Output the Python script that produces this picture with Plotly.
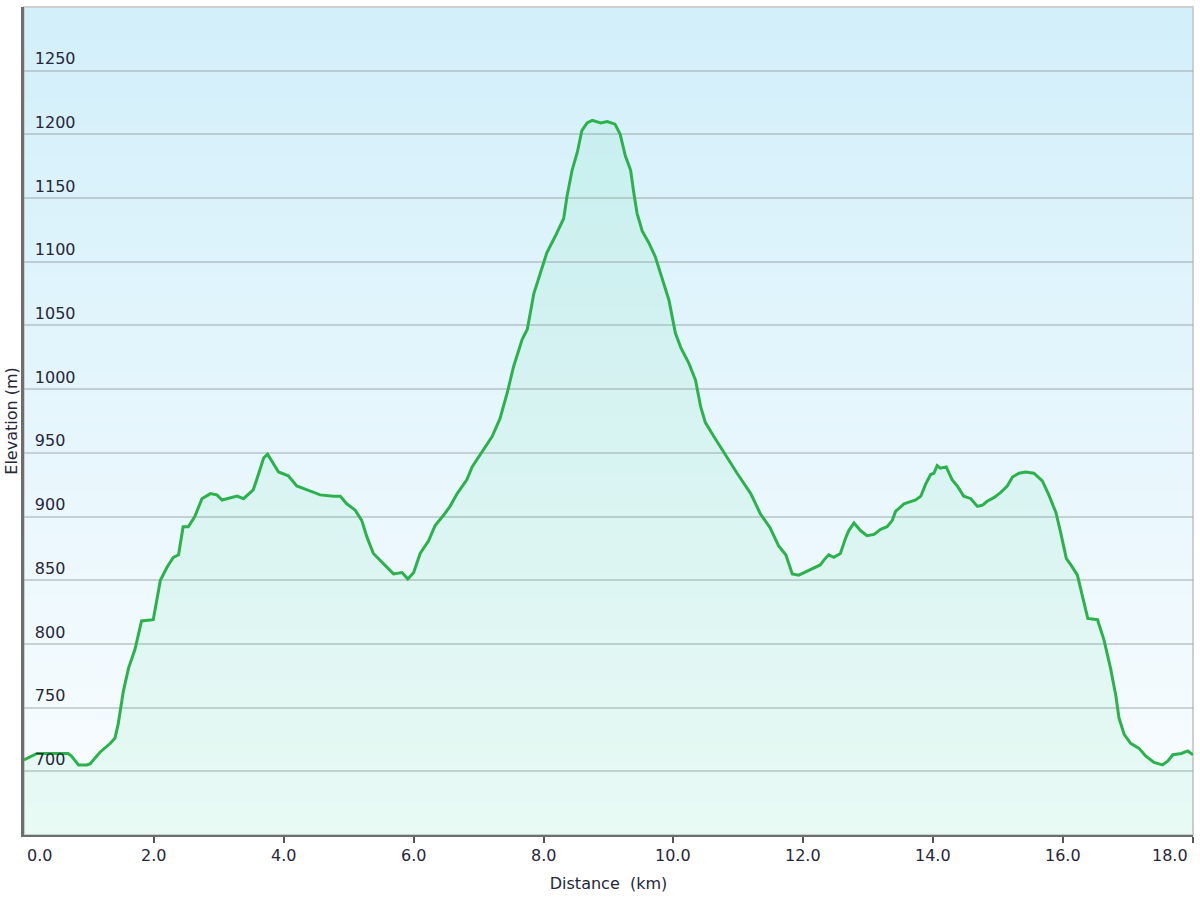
import zlib, struct, base64
import plotly.graph_objects as go

# ---- data ----
dist_km = [0.00, 0.20, 0.68, 0.73, 0.84, 0.97, 1.02, 1.17, 1.33, 1.40, 1.45, 1.53, 1.61, 1.71, 1.81, 1.99,
           2.10, 2.20, 2.30, 2.38, 2.45, 2.53, 2.63, 2.74, 2.87, 2.97, 3.05, 3.12, 3.28, 3.38, 3.53, 3.59,
           3.69, 3.75, 3.92, 4.07, 4.20, 4.36, 4.56, 4.77, 4.87, 4.97, 5.10, 5.20, 5.28, 5.38, 5.54, 5.69,
           5.82, 5.91, 6.00, 6.10, 6.23, 6.33, 6.46, 6.56, 6.67, 6.82, 6.90, 7.05, 7.21, 7.33, 7.44, 7.54,
           7.67, 7.75, 7.85, 7.95, 8.05, 8.18, 8.31, 8.36, 8.44, 8.52, 8.59, 8.67, 8.75, 8.88, 8.98, 9.10,
           9.18, 9.26, 9.34, 9.39, 9.44, 9.52, 9.62, 9.72, 9.83, 9.93, 10.03, 10.11, 10.24, 10.34, 10.42,
           10.49, 10.62, 10.78, 10.98, 11.19, 11.34, 11.49, 11.62, 11.73, 11.83, 11.93, 12.06, 12.19, 12.26,
           12.32, 12.39, 12.47, 12.57, 12.65, 12.70, 12.78, 12.88, 12.98, 13.09, 13.19, 13.29, 13.37, 13.42,
           13.55, 13.65, 13.73, 13.81, 13.88, 13.96, 14.01, 14.06, 14.11, 14.20, 14.29, 14.37, 14.47, 14.58,
           14.68, 14.76, 14.83, 14.94, 15.04, 15.14, 15.22, 15.32, 15.42, 15.55, 15.68, 15.78, 15.89, 15.96,
           16.05, 16.12, 16.22, 16.30, 16.38, 16.53, 16.63, 16.73, 16.81, 16.86, 16.94, 17.04, 17.17, 17.27,
           17.40, 17.53, 17.61, 17.69, 17.82, 17.92, 18.00]
elev_m = [709, 714, 714, 712, 705, 705, 706, 715, 722, 726, 737, 763, 781, 796, 818, 819,
          850, 860, 868, 870, 892, 892, 900, 914, 918, 917, 913, 914, 916, 914, 921, 930,
          946, 949, 935, 932, 924, 921, 917, 916, 916, 910, 905, 897, 884, 871, 863, 855,
          856, 851, 856, 871, 881, 893, 901, 908, 918, 929, 939, 951, 963, 977, 997, 1018,
          1039, 1047, 1075, 1091, 1107, 1120, 1134, 1151, 1172, 1186, 1203, 1209, 1211, 1209, 1210, 1208,
          1200, 1183, 1172, 1154, 1138, 1124, 1115, 1104, 1086, 1070, 1044, 1033, 1020, 1007, 986,
          974, 963, 950, 934, 918, 902, 891, 877, 870, 855, 854, 857, 860, 862,
          866, 870, 868, 871, 883, 889, 895, 889, 885, 886, 890, 892, 897, 904,
          910, 912, 913, 916, 925, 933, 934, 940, 938, 939, 929, 924, 916, 914,
          908, 909, 912, 915, 919, 924, 931, 934, 935, 934, 928, 917, 903, 888,
          867, 862, 854, 837, 820, 819, 803, 781, 760, 742, 729, 722, 718, 712,
          707, 705, 708, 713, 714, 716, 713]

y_ticks = [700, 750, 800, 850, 900, 950, 1000, 1050, 1100, 1150, 1200, 1250]
x_ticks = [0, 2, 4, 6, 8, 10, 12, 14, 16, 18]
x_tick_labels = ["0.0", "2.0", "4.0", "6.0", "8.0", "10.0", "12.0", "14.0", "16.0", "18.0"]

X_RANGE = [0, 18.0]
Y_RANGE = [650, 1300]


def gradient_png(top, bottom, h=256):
    rows = b""
    for i in range(h):
        t = i / (h - 1)
        c = [round(top[k] + (bottom[k] - top[k]) * t) for k in range(3)]
        rows += b"\x00" + bytes(c)

    def chunk(tag, data):
        return (struct.pack(">I", len(data)) + tag + data +
                struct.pack(">I", zlib.crc32(tag + data) & 0xffffffff))

    png = (b"\x89PNG\r\n\x1a\n" +
           chunk(b"IHDR", struct.pack(">IIBBBBB", 1, h, 8, 2, 0, 0, 0)) +
           chunk(b"IDAT", zlib.compress(rows)) +
           chunk(b"IEND", b""))
    return "data:image/png;base64," + base64.b64encode(png).decode()


bg_src = gradient_png((210, 239, 250), (250, 253, 255))

FONT = "DejaVu Sans, Verdana, sans-serif"
TXT = "#26263a"
FS = 16

fig = go.Figure()
fig.add_trace(go.Scatter(
    x=dist_km, y=elev_m, mode="lines",
    line=dict(color="#2cb24c", width=3),
    fill="tozeroy", fillcolor="rgba(40,215,120,0.08)",
    hoverinfo="x+y", showlegend=False,
))

annotations = []
for v, lab in zip(x_ticks, x_tick_labels):
    anchor, shift = "center", 0
    if v == x_ticks[0]:
        anchor, shift = "left", 1
    elif v == x_ticks[-1]:
        anchor, shift = "right", -3
    annotations.append(dict(
        x=v, y=0, xref="x", yref="paper", text=lab, showarrow=False,
        xanchor=anchor, xshift=shift, yanchor="top", yshift=-9,
        font=dict(family=FONT, size=FS, color=TXT),
    ))

fig.update_layout(
    width=1200, height=900,
    margin=dict(l=24, r=7, t=7, b=65, autoexpand=False),
    paper_bgcolor="white",
    plot_bgcolor="rgba(0,0,0,0)",
    font=dict(family=FONT, size=FS, color=TXT),
    images=[dict(source=bg_src, xref="paper", yref="paper", x=0, y=1,
                 sizex=1, sizey=1, xanchor="left", yanchor="top",
                 sizing="stretch", layer="below")],
    shapes=[dict(type="rect", xref="x domain", yref="y domain", x0=0, x1=1, y0=0, y1=1,
                 line=dict(color="#cfcfcf", width=2), layer="below")],
    annotations=annotations,
    xaxis=dict(
        range=X_RANGE, tickvals=x_ticks, showticklabels=False, automargin=False,
        ticks="outside", ticklen=6, tickwidth=2, tickcolor="#555",
        showline=True, linecolor="#6e6e6e", linewidth=2,
        showgrid=False, zeroline=False,
        title=dict(text="Distance\u00a0\u00a0(km)", standoff=36,
                   font=dict(family=FONT, size=FS, color=TXT)),
    ),
    yaxis=dict(
        range=Y_RANGE, tickvals=y_ticks, automargin=False,
        ticklabelposition="inside", ticks="", ticklabelstandoff=11, ticklabelshift=-12,
        tickfont=dict(family=FONT, size=FS, color=TXT),
        showline=True, linecolor="#6e6e6e", linewidth=3,
        showgrid=True, gridcolor="rgba(150,160,165,0.45)", gridwidth=2,
        zeroline=False,
        title=dict(text="Elevation (m)", standoff=14,
                   font=dict(family=FONT, size=FS, color=TXT)),
    ),
)

fig.write_html("out.html", config={"displayModeBar": False},
               post_script="document.body.style.margin='0';")
